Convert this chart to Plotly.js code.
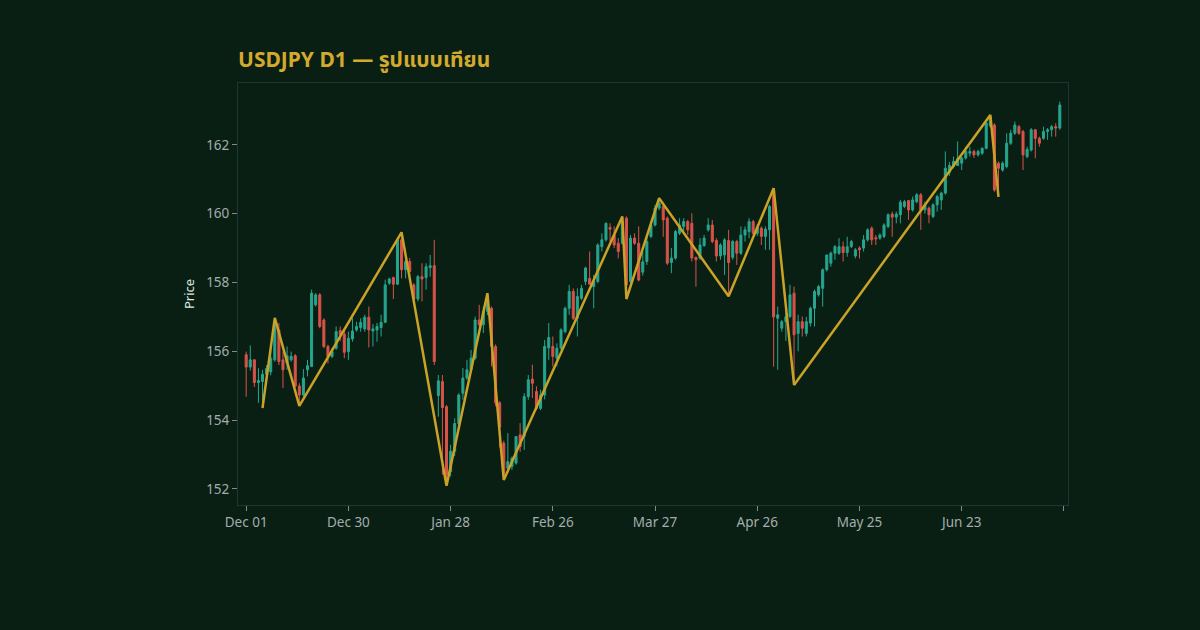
<!DOCTYPE html>
<html>
<head>
<meta charset="utf-8">
<script src="https://cdn.plot.ly/plotly-3.0.1.min.js"></script>
<style>html,body{margin:0;padding:0;background:#0a1f14;}#chart{width:1200px;height:630px;}</style>
</head>
<body>
<div id="chart"></div>
<script>
const tickLabels = ["Dec 01","Dec 30","Jan 28","Feb 26","Mar 27","Apr 26","May 25","Jun 23"];
const tickIdx = [0,25,50,75,100,125,150,175,200];

const open = [155.90,155.54,155.75,155.09,155.12,155.33,155.40,155.75,156.62,155.75,
155.65,155.75,155.87,154.99,154.73,155.46,155.56,157.35,157.64,156.91,
156.14,155.85,156.09,156.60,156.50,155.99,156.36,156.62,156.69,156.65,
156.99,156.59,156.62,156.69,156.84,157.98,158.14,157.95,159.24,158.37,
158.61,157.93,157.52,158.17,158.14,158.43,158.49,154.71,155.12,154.39,
152.50,153.09,153.90,154.78,155.22,155.46,155.80,156.91,156.77,157.16,
157.25,156.14,154.50,153.33,152.60,152.65,152.75,153.57,153.52,154.68,
155.19,154.83,154.34,154.73,156.10,156.14,155.80,156.09,156.57,157.25,
157.74,156.96,157.54,158.03,158.12,157.88,158.03,159.04,159.24,159.60,
159.38,159.14,159.14,159.87,158.03,159.29,159.14,158.30,158.61,159.34,
159.67,160.16,160.21,159.87,158.58,158.71,159.43,159.63,159.77,159.72,
158.73,158.71,159.07,159.53,159.67,159.22,158.77,158.80,159.22,158.73,
159.19,158.85,159.38,159.48,159.77,159.43,159.58,159.34,159.53,160.69,
156.96,156.67,156.86,157.01,157.69,156.52,156.86,156.52,156.82,157.25,
157.64,157.83,158.37,158.56,158.85,158.85,159.04,158.87,159.04,158.77,
159.00,159.00,159.24,159.58,159.30,159.29,159.34,159.63,159.99,159.90,
159.97,160.21,160.38,160.11,160.35,160.55,160.11,160.16,159.92,160.26,
160.40,160.60,161.20,161.37,161.40,161.47,161.62,161.76,161.81,161.71,
161.76,161.90,162.55,162.58,161.47,161.27,161.37,162.05,162.34,162.53,
162.39,161.66,161.85,162.44,162.19,162.19,162.39,162.44,162.53,162.49];

const high = [155.99,156.17,155.77,155.51,155.46,155.60,156.10,156.97,156.82,155.99,
156.14,155.99,155.92,155.07,155.48,155.75,157.79,157.69,157.69,156.96,
156.19,156.09,156.72,156.72,156.60,156.57,156.96,156.86,156.96,157.06,
157.30,156.79,156.82,157.06,158.08,158.14,158.17,159.29,159.46,158.71,
158.71,157.98,158.22,158.56,158.56,158.80,159.24,155.31,155.31,154.44,
153.28,154.05,154.78,155.51,155.75,156.04,157.01,157.35,157.30,157.69,
157.30,156.20,154.55,153.40,153.62,152.94,153.52,153.91,154.78,155.31,
155.61,154.98,154.88,156.33,156.82,156.43,156.23,156.67,157.30,157.93,
157.83,157.83,157.93,158.46,158.90,158.22,159.14,159.43,159.75,159.72,
159.63,159.29,159.92,159.92,159.38,159.43,159.63,158.90,159.38,159.77,
160.26,160.45,160.30,159.92,159.00,159.53,159.87,159.87,159.82,160.01,
158.75,159.29,159.38,159.87,159.82,159.29,159.14,159.29,159.53,159.24,
159.24,159.63,159.63,159.87,159.82,159.70,159.63,159.63,160.26,160.74,
157.30,156.91,157.30,157.93,157.88,157.06,157.01,157.00,157.30,157.79,
157.93,158.41,158.80,158.90,159.09,159.29,159.19,159.33,159.24,159.00,
159.05,159.38,159.58,159.63,159.38,159.43,159.72,160.01,160.06,160.06,
160.40,160.40,160.40,160.50,160.60,160.60,160.35,160.21,160.30,160.55,
160.64,161.81,161.50,161.66,162.10,161.66,161.95,161.95,161.86,161.86,
161.93,162.68,162.87,162.63,161.52,161.52,162.34,162.44,162.68,162.58,
162.44,161.95,162.49,162.46,162.24,162.53,162.49,162.58,162.63,163.26];

const low = [154.68,155.44,154.96,154.50,154.35,155.15,155.30,155.70,155.60,154.93,
155.46,155.70,154.96,154.41,154.68,155.27,155.54,157.30,156.67,156.09,
155.65,155.80,156.04,156.30,155.80,155.75,156.28,156.57,156.57,156.57,
156.11,156.14,156.28,156.43,156.82,157.93,157.52,157.93,158.12,158.12,
158.17,157.45,157.45,157.45,157.79,158.17,155.60,154.10,152.41,152.09,
152.36,152.95,153.80,154.59,155.17,155.40,155.75,156.72,156.53,157.05,
155.56,154.40,153.20,152.26,152.46,152.55,152.70,153.08,153.13,154.59,
154.64,154.29,154.29,154.60,155.75,155.56,155.56,156.04,156.52,157.06,
156.91,156.43,157.49,157.93,157.93,157.25,157.98,158.90,159.19,159.20,
159.00,158.70,159.10,157.52,157.98,159.09,158.03,158.20,158.51,159.29,
159.63,160.10,159.33,158.51,158.27,158.66,159.38,159.43,159.38,158.61,
157.88,158.66,159.04,159.48,159.14,158.61,158.66,158.22,157.60,158.66,
158.51,158.80,159.19,159.29,159.38,159.35,159.09,158.95,158.95,155.55,
155.46,156.57,156.30,156.96,155.02,156.00,156.43,156.43,156.72,156.72,
157.59,157.30,158.32,158.46,158.66,158.80,158.61,158.75,159.00,158.70,
158.70,158.90,159.19,159.09,159.09,159.24,159.29,159.58,159.33,159.72,
159.72,160.16,159.82,160.06,160.30,159.53,160.00,159.72,159.87,160.06,
160.11,160.55,161.10,161.32,161.40,161.27,161.57,161.66,161.62,161.66,
161.71,161.87,162.50,160.64,160.49,161.22,161.32,162.00,162.29,162.29,
161.27,161.61,161.81,161.61,161.95,162.15,162.15,162.24,162.24,162.44];

const close = [155.54,155.75,155.09,155.15,155.33,155.50,155.80,156.86,155.70,155.46,
155.87,155.85,154.99,154.73,155.22,155.58,157.69,157.64,156.72,156.14,
155.85,155.99,156.57,156.48,155.97,156.38,156.59,156.72,156.84,156.99,
156.62,156.65,156.72,156.84,157.93,158.10,157.95,159.24,158.37,158.61,
158.32,157.52,158.17,158.10,158.46,158.49,155.70,155.14,154.36,152.41,
153.09,153.90,154.73,155.22,155.46,155.80,156.91,156.77,157.16,157.55,
156.14,154.50,153.80,152.45,152.79,152.89,153.52,153.23,154.68,155.17,
155.07,154.34,154.73,156.14,156.40,155.85,156.09,156.62,157.25,157.74,
156.96,157.59,157.83,158.42,157.95,158.03,159.09,159.24,159.72,159.55,
159.09,158.90,159.77,157.93,159.29,159.14,158.07,158.60,159.19,159.67,
160.16,160.30,159.82,158.56,158.71,159.48,159.67,159.77,159.53,158.71,
158.66,159.09,159.29,159.67,159.19,158.77,159.09,159.24,158.58,159.19,
158.85,159.38,159.53,159.77,159.43,159.60,159.34,159.55,160.21,157.00,
157.06,156.86,157.00,157.64,156.48,156.86,156.67,156.86,157.25,157.74,
157.88,158.37,158.80,158.85,159.04,159.04,158.87,159.04,159.19,158.95,
158.95,159.24,159.53,159.24,159.27,159.38,159.67,159.97,159.90,159.99,
160.33,160.35,160.11,160.40,160.55,160.11,160.25,159.97,160.26,160.50,
160.60,161.32,161.40,161.52,161.60,161.62,161.81,161.81,161.71,161.81,
161.90,162.63,162.80,160.69,161.32,161.47,162.05,162.34,162.58,162.34,
161.71,161.87,162.44,162.19,162.05,162.39,162.44,162.53,162.49,163.16];

const zigIdx = [4,7,13,38,49,59,63,92,93,101,118,129,134,182,184];
const zigVal = [154.35,156.97,154.41,159.46,152.09,157.69,152.26,159.92,157.52,160.45,157.60,160.74,155.02,162.87,160.49];

const idx = open.map((_, i) => i);
// the final tick (beyond the last candle) carries no label
const tickText = tickIdx.map((v, i) => (i < tickLabels.length ? tickLabels[i] : ' '));

const candles = {
  type: 'candlestick',
  x: idx, open: open, high: high, low: low, close: close,
  increasing: {line: {color: '#26a68f', width: 1}, fillcolor: '#26a68f'},
  decreasing: {line: {color: '#d9534a', width: 1}, fillcolor: '#d9534a'},
  hoverinfo: 'skip', showlegend: false
};
const zig = {
  type: 'scatter', mode: 'lines',
  x: zigIdx, y: zigVal,
  line: {color: '#c9a227', width: 2.5},
  hoverinfo: 'skip', showlegend: false
};

const axisFont = {family: 'Noto Sans, Lato, sans-serif', size: 13.5, color: '#a3adad'};
const layout = {
  width: 1200, height: 630,
  paper_bgcolor: '#0a1f14', plot_bgcolor: '#0a1f14',
  margin: {l: 238, r: 132, t: 83, b: 125},
  title: {
    text: '<b>USDJPY D1 — รูปแบบเทียน</b>',
    font: {family: 'Noto Sans, Noto Sans Thai, sans-serif', size: 21, color: '#d4aa2e'},
    x: 0, xref: 'paper', xanchor: 'left',
    y: 0.905, yref: 'container', yanchor: 'middle'
  },
  xaxis: {
    type: 'linear', range: [-2, 201],
    tickmode: 'array', tickvals: tickIdx, ticktext: tickText,
    showgrid: false, zeroline: false,
    showline: true, mirror: true, linecolor: '#1e3636', linewidth: 1,
    ticks: 'outside', ticklen: 5, tickcolor: '#7d8c8c',
    tickfont: axisFont,
    rangeslider: {visible: false}
  },
  yaxis: {
    range: [151.53, 163.8],
    dtick: 2, tick0: 152,
    showgrid: false, zeroline: false,
    showline: true, mirror: true, linecolor: '#1e3636', linewidth: 1,
    ticks: 'outside', ticklen: 5, tickcolor: '#7d8c8c',
    tickfont: axisFont,
    title: {text: 'Price', font: {family: 'Noto Sans, Lato, sans-serif', size: 13, color: '#dfe6e2'}, standoff: 8}
  },
  hovermode: false
};

Plotly.newPlot('chart', [candles, zig], layout, {displayModeBar: false, staticPlot: true});
</script>
</body>
</html>
